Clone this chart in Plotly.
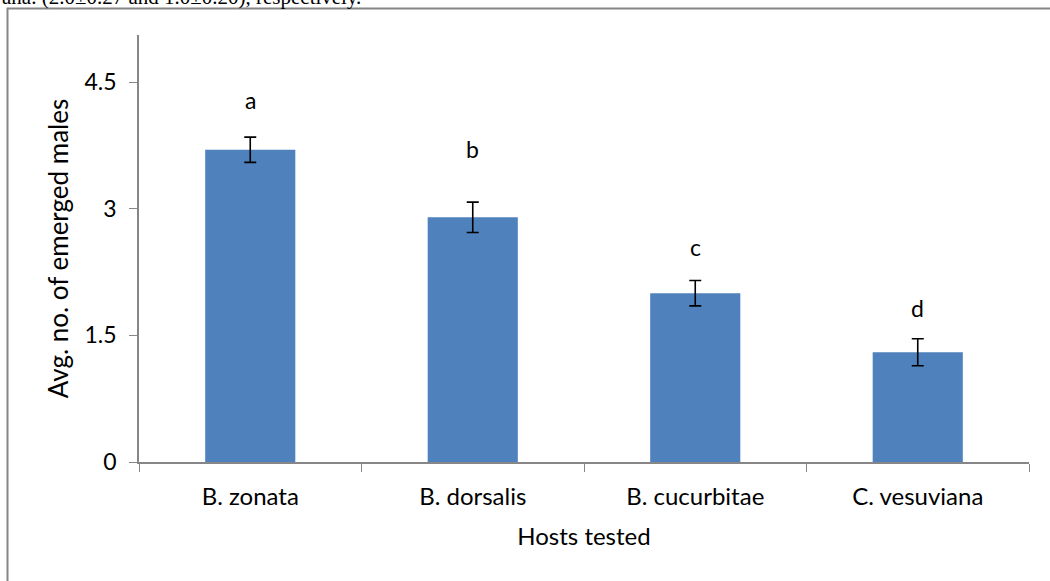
import plotly.graph_objects as go

hosts = ["B. zonata", "B. dorsalis", "B. cucurbitae", "C. vesuviana"]
means = [3.7, 2.9, 2.0, 1.3]
errors = [0.15, 0.18, 0.15, 0.16]
letters = ["a", "b", "c", "d"]
letter_y = [4.29, 3.71, 2.55, 1.83]
y_ticks = [0, 1.5, 3, 4.5]
y_tick_text = ["0", "1.5", "3", "4.5"]

FONT = "Lato"
GRAY = "#868686"

fig = go.Figure()
fig.add_trace(go.Bar(
    x=hosts, y=means,
    marker=dict(color="#4F81BD", line=dict(width=0)),
    width=0.405,
    error_y=dict(type="data", array=errors, visible=True,
                 color="black", thickness=1.6, width=6),
    showlegend=False,
))

for h, l, yy in zip(hosts, letters, letter_y):
    fig.add_annotation(x=h, y=yy, text=l, showarrow=False,
                       font=dict(family=FONT, size=23, color="black"))

# partially visible caption text above the frame
fig.add_annotation(xref="paper", yref="paper", x=-139 / 890, y=(462 + 3) / 427,
                   xanchor="left", yanchor="middle",
                   text="ana. (2.0±0.27 and 1.0±0.20), respectively.",
                   showarrow=False,
                   font=dict(family="Liberation Serif", size=21, color="black"))

# outer frame
fig.add_shape(type="rect", xref="paper", yref="paper",
              x0=(7.5 - 139) / 890, x1=(1070 - 139) / 890,
              y0=(462 - 600) / 427, y1=(462 - 8.5) / 427,
              line=dict(color=GRAY, width=2), fillcolor="rgba(0,0,0,0)",
              layer="below")

fig.update_layout(
    width=1050, height=581,
    margin=dict(l=139, r=21, t=35, b=119, autoexpand=False),
    paper_bgcolor="white", plot_bgcolor="white",
    font=dict(family=FONT, size=22, color="black"),
)
fig.update_xaxes(
    showline=True, linecolor=GRAY, linewidth=1.6,
    ticks="outside", tickson="boundaries", ticklen=8, tickcolor=GRAY, tickwidth=1.3,
    tickfont=dict(family=FONT, size=24), ticklabelstandoff=12,
    title=dict(text="Hosts tested", font=dict(family=FONT, size=24), standoff=20),
    showgrid=False, automargin=False,
)
fig.update_yaxes(
    range=[0, 5.06], tickvals=y_ticks, ticktext=y_tick_text,
    showline=True, linecolor=GRAY, linewidth=1.6,
    ticks="outside", ticklen=8, tickcolor=GRAY, tickwidth=1.3,
    tickfont=dict(family=FONT, size=23), ticklabelstandoff=8,
    title=dict(text="Avg. no. of emerged males", font=dict(family=FONT, size=26), standoff=8),
    showgrid=False, zeroline=False, automargin=False,
)

fig.write_html("out.html", config={"displayModeBar": False},
               post_script="document.body.style.margin='0px';")
